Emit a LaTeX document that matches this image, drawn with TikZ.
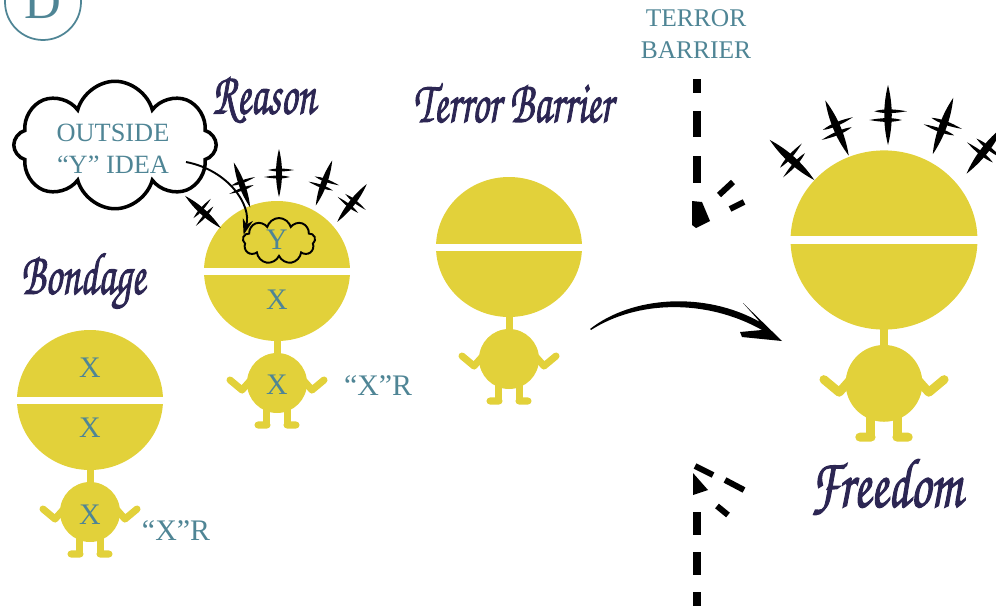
\documentclass[tikz,border=0pt]{standalone}
\usepackage{fontspec}
\setmainfont{Liberation Serif}
\newfontfamily\handfont[FakeBold=1.8]{TeX Gyre Chorus}
\usetikzlibrary{arrows.meta, shapes.symbols}

\definecolor{kidyellow}{HTML}{E2D13A}
\definecolor{inkteal}{HTML}{4F8595}
\definecolor{inknavy}{HTML}{2C2653}

\newcommand{\narrow}[1]{\scalebox{0.68}[1]{#1}}

\tikzset{
  pics/kid/.style={code={
    \fill[kidyellow] (0,0) ellipse[x radius=73, y radius=70];
    \fill[white] (-76,-3.5) rectangle (76,3.5);
    \fill[kidyellow] (-3.5,66) rectangle (3.5,88);
    \fill[kidyellow] (0,112) circle[radius=30];
    \fill[kidyellow] (-14,136) rectangle (-7,153);
    \fill[kidyellow] (7,136) rectangle (14,153);
    \draw[kidyellow, line width=#1, line cap=round, line join=round]
      (-47,109) -- (-35,119) -- (-27,110)
      (47,109) -- (35,119) -- (27,110)
      (-19,154) -- (-10,154) (10,154) -- (19,154);
  }},
  pics/spark/.style={code={
    \fill (-24,0) .. controls (-8,4) and (8,4) .. (24,0) .. controls (8,-4) and (-8,-4) .. cycle;
    \fill (3,-11) .. controls (5,-4) and (5,4) .. (3,15) .. controls (1,4) and (1,-4) .. cycle;
    \fill (-4,-15) .. controls (-2,-4) and (-2,4) .. (-4,11) .. controls (-6,4) and (-6,-4) .. cycle;
  }}
}

\begin{document}
\begin{tikzpicture}[x=0.02cm, y=-0.02cm,
  heading/.style={text=inknavy, inner sep=0pt, font=\handfont\fontsize{34}{34}\selectfont},
  tag/.style={text=inkteal, inner sep=0pt, align=center, font=\fontsize{15}{18.2}\selectfont},
  letter/.style={text=inkteal, inner sep=0pt, font=\fontsize{17}{17}\selectfont},
  bubble/.style={cloud, draw=black, cloud puffs=8, aspect=1.6, inner sep=0pt}
]
  \useasboundingbox (0,0) rectangle (996,605);
  \clip (0,0) rectangle (996,605);

  \node[circle, draw=inkteal, line width=1pt, minimum size=1.52cm, inner sep=0pt,
        text=inkteal, font=\fontsize{29}{29}\selectfont] (panel) at (43,2) {D};

  % the four figures
  \pic at (90,400) {kid=4pt};
  \pic at (277,271) {kid=4pt};
  \pic at (509,247) {kid=4pt};
  \pic[scale=1.28] at (884,240) {kid=5pt};

  \foreach \x/\y/\a in {203/212/138, 242/185/110, 279/173/90, 324/183/70, 352/203/52}
    \pic[rotate=\a] at (\x,\y) {spark};
  \foreach \x/\y/\a in {792/160/138, 837/128/113, 888/115/90, 943/126/70, 985/150/52}
    \pic[rotate=\a, scale=1.25] at (\x,\y) {spark};

  \node[heading] (bondage) at (83,281) {\narrow{Bondage}};
  \node[heading] (reason) at (264,100) {\narrow{Reason}};
  \node[heading] (terror) at (513,103) {\narrow{Terror Barrier}};
  \node[heading, font=\handfont\fontsize{40}{40}\selectfont] (freedom) at (886,487) {\scalebox{0.72}[1]{Freedom}};

  \node[letter] (bhead) at (90,368) {X};
  \node[letter] (bmind) at (90,428) {X};
  \node[letter] (bbody) at (90,515) {X};
  \node[tag, font=\fontsize{17}{17}\selectfont] (bname) at (176,531) {“X”R};
  \node[letter] (rmind) at (277,300) {X};
  \node[letter] (rbody) at (277,385) {X};
  \node[tag, font=\fontsize{17}{17}\selectfont] (rname) at (378,386) {“X”R};

  % outside idea dropped into the head
  \node[bubble, line width=2pt, minimum width=4.05cm, minimum height=2.55cm] (idea) at (115,145) {};
  \node[tag] (ideatext) at (113,149) {OUTSIDE\\“Y” IDEA};
  \node[bubble, line width=1.1pt, cloud puffs=9, minimum width=1.45cm, minimum height=0.92cm] (ycloud) at (279,241) {};
  \node[letter] (ytext) at (277,240) {Y};
  \coordinate (ideatail) at (186,162);
  \draw[line width=1.1pt, -{Stealth[length=9pt, width=6pt]}]
    (ideatail) .. controls (228,170) and (252,205) .. (ycloud.170);

  % barrier
  \node[tag, font=\fontsize{14.5}{18.2}\selectfont] (barrier) at (696,34) {TERROR\\BARRIER};
  \foreach \a/\b in {79/93, 111/137, 156/183, 512/535, 552/575, 592/610}
    \fill (693,\a) rectangle (701,\b);
  \fill (692,201) -- (702,202) -- (710,221) -- (696,228) -- (692,225) -- cycle;
  \fill (693,473) -- (708,490) -- (693,495) -- cycle;
  \draw[line width=3.4pt] (733,182) -- (719,195) (744,202) -- (730,209)
    (695,466) -- (713,475) (725,480) -- (744,490) (717,506) -- (728,515);

  % leap over the barrier
  \fill (590,329) .. controls (632,296) and (705,291) .. (760,322)
    -- (743,303) -- (782,341) -- (742,337) -- (740,332)
    -- (762,330) .. controls (705,298) and (636,301) .. (591,330) -- cycle;
\end{tikzpicture}
\end{document}
